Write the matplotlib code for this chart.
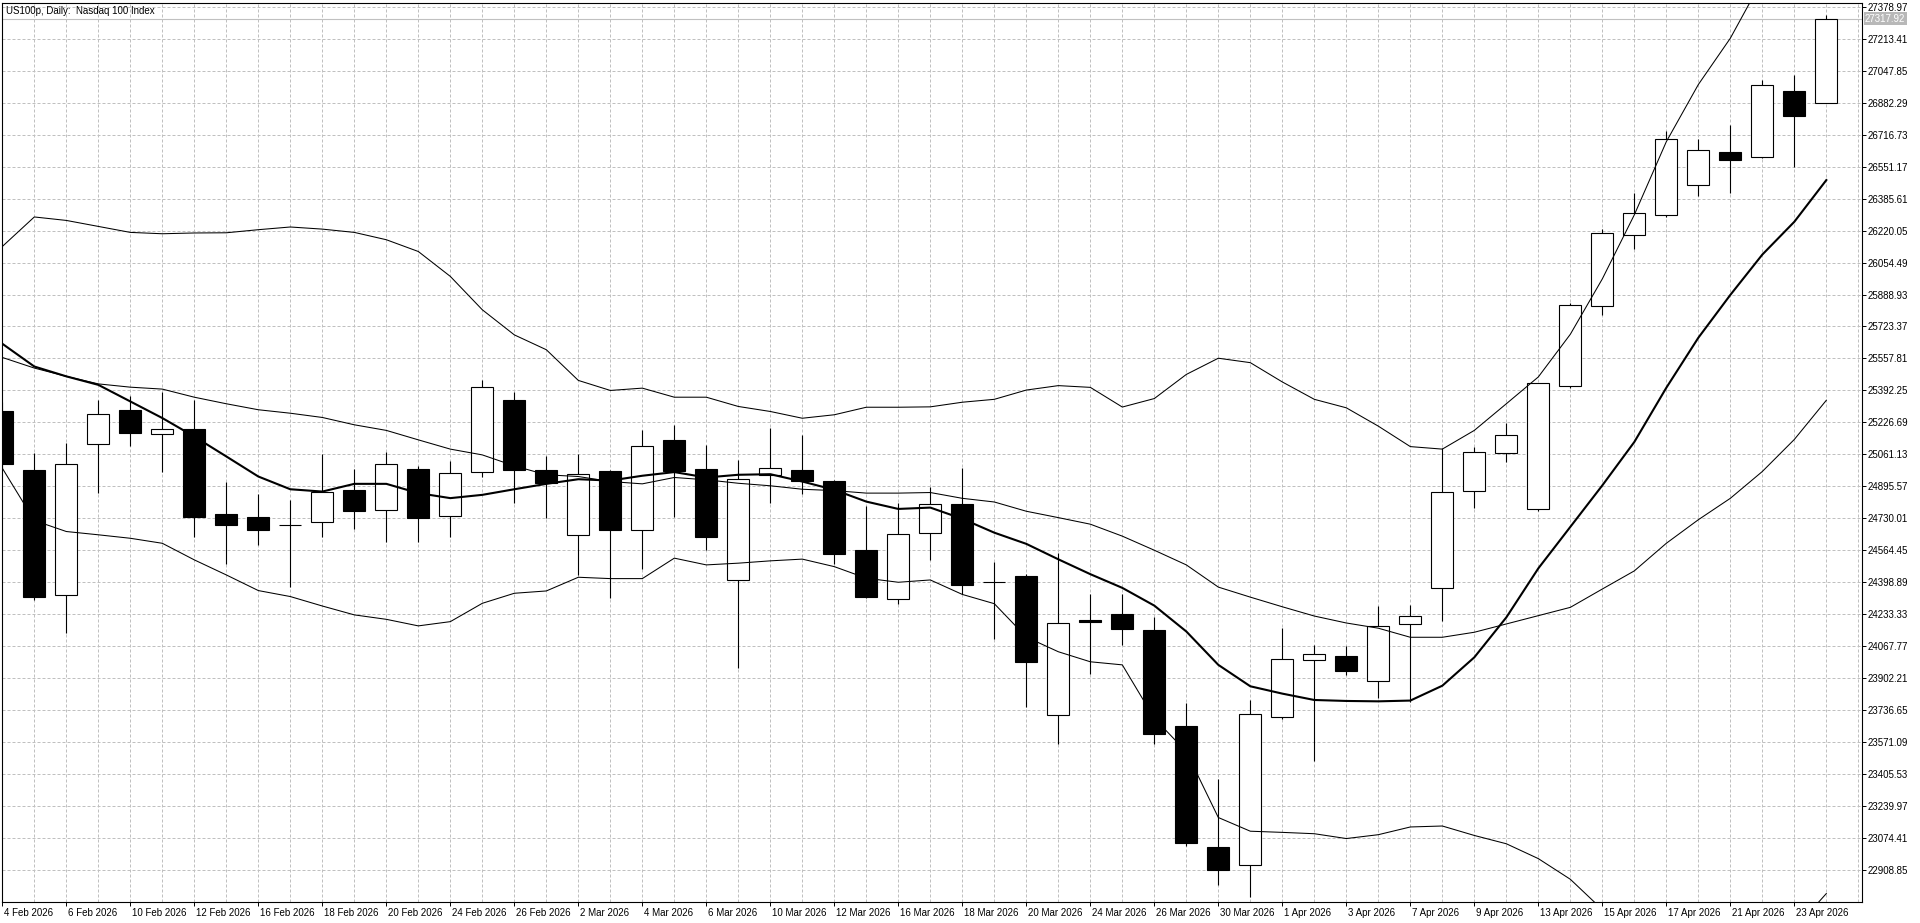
import matplotlib
matplotlib.use("Agg")
import matplotlib.pyplot as plt
from matplotlib.patches import Rectangle
from matplotlib.transforms import ScaledTranslation, blended_transform_factory

# daily bars, US100p
dates = [
    "4 Feb 2026", "5 Feb 2026", "6 Feb 2026", "9 Feb 2026", "10 Feb 2026",
    "11 Feb 2026", "12 Feb 2026", "13 Feb 2026", "16 Feb 2026", "17 Feb 2026",
    "18 Feb 2026", "19 Feb 2026", "20 Feb 2026", "23 Feb 2026", "24 Feb 2026",
    "25 Feb 2026", "26 Feb 2026", "27 Feb 2026", "2 Mar 2026", "3 Mar 2026",
    "4 Mar 2026", "5 Mar 2026", "6 Mar 2026", "9 Mar 2026", "10 Mar 2026",
    "11 Mar 2026", "12 Mar 2026", "13 Mar 2026", "16 Mar 2026", "17 Mar 2026",
    "18 Mar 2026", "19 Mar 2026", "20 Mar 2026", "23 Mar 2026", "24 Mar 2026",
    "25 Mar 2026", "26 Mar 2026", "27 Mar 2026", "30 Mar 2026", "31 Mar 2026",
    "1 Apr 2026", "2 Apr 2026", "3 Apr 2026", "6 Apr 2026", "7 Apr 2026",
    "8 Apr 2026", "9 Apr 2026", "10 Apr 2026", "13 Apr 2026", "14 Apr 2026",
    "15 Apr 2026", "16 Apr 2026", "17 Apr 2026", "20 Apr 2026", "21 Apr 2026",
    "22 Apr 2026", "23 Apr 2026", "24 Apr 2026",
]

opens = [
    25286, 24979, 24331, 25114, 25292, 25166, 25193, 24752, 24737, 24697,
    24709, 24875, 24771, 24984, 24740, 24969, 25344, 24979, 24642, 24975,
    24668, 25136, 24986, 24409, 24955, 24981, 24924, 24566, 24310, 24652,
    24802, 24400, 24430, 23708, 24200, 24231, 24151, 23652, 23026, 22932,
    23702, 23993, 24018, 23884, 24180, 24366, 24869, 25066, 24776, 25417,
    25831, 26199, 26302, 26458, 26630, 26602, 26944, 26881,
]
highs = [
    25330, 25067, 25119, 25340, 25361, 25382, 25340, 24915, 24853, 24822,
    25064, 24984, 25074, 25003, 25027, 25447, 25385, 25053, 25064, 24980,
    25185, 25212, 25110, 25032, 25198, 25162, 24926, 24791, 24811, 24894,
    24990, 24501, 24440, 24549, 24335, 24335, 24220, 23773, 23380, 23788,
    24162, 24072, 24066, 24277, 24280, 25092, 25101, 25225, 25430, 25846,
    26229, 26413, 26737, 26694, 26770, 27001, 27029, 27337,
]
lows = [
    24985, 24307, 24134, 24863, 25105, 24970, 24633, 24493, 24592, 24376,
    24630, 24676, 24609, 24609, 24633, 24941, 24811, 24732, 24436, 24315,
    24466, 24737, 24566, 23956, 24811, 24853, 24493, 24316, 24286, 24511,
    24335, 24105, 23750, 23558, 23923, 24075, 23558, 23030, 22827, 22767,
    23687, 23472, 23917, 23798, 23780, 24199, 24782, 25022, 24765, 25406,
    25785, 26125, 26293, 26399, 26413, 26598, 26552, 26880,
]
closes = [
    25013, 24320, 25010, 25269, 25169, 25191, 24737, 24697, 24671, 24694,
    24868, 24765, 25010, 24730, 24963, 25409, 24979, 24910, 24958, 24671,
    25103, 24975, 24630, 24932, 24989, 24925, 24547, 24320, 24647, 24804,
    24382, 24397, 23986, 24185, 24192, 24158, 23614, 23049, 22907, 23714,
    24000, 24028, 23940, 24170, 24225, 24865, 25074, 25159, 25428, 25837,
    26208, 26312, 26696, 26639, 26585, 26975, 26812, 27317.92,
]

# Bollinger bands (thin) and moving average (thick)
bb_upper = [
    26138, 26291, 26273, 26242, 26211, 26204, 26208, 26209, 26225, 26239,
    26228, 26211, 26173, 26112, 25983, 25810, 25680, 25603, 25444, 25392,
    25404, 25357, 25357, 25309, 25283, 25248, 25266, 25305, 25305, 25307,
    25331, 25346, 25394, 25417, 25408, 25306, 25350, 25475, 25559, 25536,
    25436, 25346, 25302, 25207, 25101, 25088, 25185, 25323, 25462, 25683,
    25970, 26302, 26681, 26977, 27217, 27520, 27680, 27900,
]
bb_middle = [
    25563, 25508, 25465, 25426, 25409, 25399, 25357, 25323, 25292, 25274,
    25252, 25214, 25185, 25136, 25088, 25058, 25001, 24955, 24946, 24920,
    24908, 24941, 24929, 24911, 24898, 24880, 24873, 24860, 24860, 24863,
    24833, 24814, 24766, 24733, 24699, 24637, 24564, 24488, 24373, 24321,
    24271, 24223, 24187, 24160, 24113, 24113, 24139, 24182, 24225, 24268,
    24363, 24457, 24600, 24722, 24833, 24972, 25138, 25341,
]
bb_lower = [
    24989, 24718, 24661, 24644, 24626, 24600, 24514, 24436, 24355, 24324,
    24275, 24229, 24206, 24172, 24194, 24289, 24341, 24353, 24424, 24417,
    24417, 24523, 24488, 24497, 24509, 24518, 24479, 24419, 24398, 24410,
    24335, 24287, 24114, 24038, 23986, 23970, 23693, 23520, 23179, 23108,
    23102, 23095, 23070, 23090, 23130, 23135, 23086, 23043, 22966, 22859,
    22702, 22612, 22519, 22468, 22449, 22425, 22600, 22785,
]
ma_line = [
    25634, 25516, 25465, 25421, 25335, 25249, 25153, 25050, 24946, 24880,
    24868, 24908, 24908, 24860, 24834, 24851, 24880, 24908, 24932, 24925,
    24950, 24969, 24941, 24955, 24958, 24920, 24877, 24816, 24778, 24785,
    24727, 24655, 24597, 24517, 24440, 24369, 24277, 24143, 23970, 23859,
    23821, 23788, 23783, 23781, 23785, 23862, 24009, 24216, 24470, 24685,
    24900, 25125, 25406, 25665, 25887, 26096, 26266, 26482,
]

price_labels = [
    "27378.97", "27213.41", "27047.85", "26882.29", "26716.73", "26551.17",
    "26385.61", "26220.05", "26054.49", "25888.93", "25723.37", "25557.81",
    "25392.25", "25226.69", "25061.13", "24895.57", "24730.01", "24564.45",
    "24398.89", "24233.33", "24067.77", "23902.21", "23736.65", "23571.09",
    "23405.53", "23239.97", "23074.41", "22908.85",
]

TITLE = "US100p, Daily:  Nasdaq 100 Index"
LAST_PRICE = 27317.92
GRID_COLOR = "#c0c0c0"

plt.rcParams["font.family"] = ["Liberation Sans", "DejaVu Sans"]
plt.rcParams["font.size"] = 7

fig = plt.figure(figsize=(19.2, 9.23), dpi=100)
ax = fig.add_axes([2 / 1920, 21 / 923, 1860 / 1920, 899 / 923])
ax.set_xlim(-0.01, 58.115)
ax.set_ylim(22741.2, 27399.7)

# dashed grid: one vertical per bar, one horizontal per price label
n = len(dates)
ax.vlines(range(n + 1), 22741.2, 27399.7, colors=GRID_COLOR, lw=0.72,
          linestyles=(0, (3, 2)), zorder=0)
ax.hlines([float(p) for p in price_labels], -0.01, 58.115, colors=GRID_COLOR,
          lw=0.72, linestyles=(0, (3, 2)), zorder=0)

# last price line
ax.axhline(LAST_PRICE, color=GRID_COLOR, lw=0.8, zorder=1)

# candles
body_w = 0.68
for i in range(n):
    o, h, l, c = opens[i], highs[i], lows[i], closes[i]
    ax.vlines(i, l, h, colors="black", lw=0.8, zorder=2)
    ax.add_patch(Rectangle((i - body_w / 2, min(o, c)), body_w, abs(c - o),
                           facecolor="white" if c >= o else "black",
                           edgecolor="black", lw=0.8, zorder=3))

x = list(range(n))
ax.plot(x, bb_upper, color="black", lw=0.75, zorder=4)
ax.plot(x, bb_middle, color="black", lw=0.75, zorder=4)
ax.plot(x, bb_lower, color="black", lw=0.75, zorder=4)
ax.plot(x, ma_line, color="black", lw=1.5, zorder=5)

# axes look
for s in ax.spines.values():
    s.set_color("black")
    s.set_linewidth(0.8)

ax.set_xticks(range(0, n, 2))
ax.set_xticklabels(dates[0::2])
ax.tick_params(axis="x", direction="out", length=3, width=0.7, pad=1.5,
               labelsize=7)
offset = ScaledTranslation(2 / 100, 0, fig.dpi_scale_trans)
for lab in ax.get_xticklabels():
    lab.set_horizontalalignment("left")
    lab.set_transform(lab.get_transform() + offset)

ax.yaxis.tick_right()
ax.set_yticks([float(p) for p in price_labels])
ax.set_yticklabels(price_labels)
ax.tick_params(axis="y", direction="out", length=3, width=0.7, pad=1,
               labelsize=7)

ax.annotate(TITLE, xy=(0, 1), xycoords="axes fraction", xytext=(4, -3),
            textcoords="offset pixels", ha="left", va="top", fontsize=7)

trans = blended_transform_factory(ax.transAxes, ax.transData)
ax.text(1.0, LAST_PRICE, f"{LAST_PRICE:.2f}", transform=trans + ScaledTranslation(3 / 100, 0, fig.dpi_scale_trans),
        ha="left", va="center", color="white", fontsize=7, zorder=6,
        bbox=dict(boxstyle="square,pad=0.15", fc="#b8b8b8", ec="none"))

fig.savefig("out.png", dpi=100, facecolor="white")
